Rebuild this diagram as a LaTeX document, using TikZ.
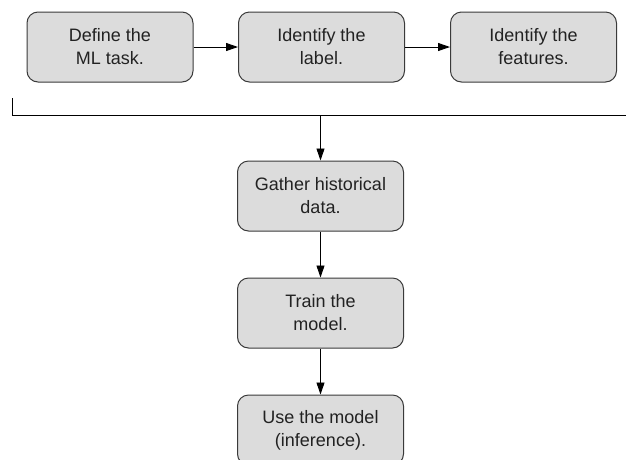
\documentclass[tikz,border=0pt]{standalone}
\usepackage{fontspec}
\setmainfont{Liberation Sans}
\usetikzlibrary{arrows.meta}
\definecolor{boxfill}{HTML}{DCDCDC}
\definecolor{boxline}{HTML}{3A3A3A}
\definecolor{boxtext}{HTML}{222222}
\tikzset{
  stepbox/.style={draw=boxline, fill=boxfill, line width=1pt, rounded corners=11pt,
    minimum width=166pt, minimum height=70pt, align=center, inner sep=2pt,
    text=boxtext, font=\fontsize{18}{23}\selectfont},
  flow/.style={draw=black, line width=0.95pt, -{Triangle[length=12pt,width=8pt]}}
}
\begin{document}
\begin{tikzpicture}[x=1pt, y=1pt]
      \useasboundingbox (0,0) rectangle (626,-459);
      \draw
        (110,-47) node[stepbox] (task){Define the\\ML task.}
        (321.5,-47) node[stepbox] (label){Identify the\\label.}
        (533.5,-47) node[stepbox] (features){Identify the\\features.}
        (320.5,-196) node[stepbox] (gather){Gather historical\\data.}
        (320.5,-313) node[stepbox] (train){Train the\\model.}
        (320.5,-430) node[stepbox] (use){Use the model\\(inference).};
      \coordinate (brleft) at (12,-98);
      \coordinate (brright) at (630,-115);
      \coordinate (brmid) at (320.5,-115);
      \begin{scope}[flow]
        \draw (task) to (label);
        \draw (label) to (features);
        \draw (brmid) to (gather);
        \draw (gather) to (train);
        \draw (train) to (use);
      \end{scope}
      \draw[line width=0.95pt] (brleft) |- (brright);
    \end{tikzpicture}
\end{document}
